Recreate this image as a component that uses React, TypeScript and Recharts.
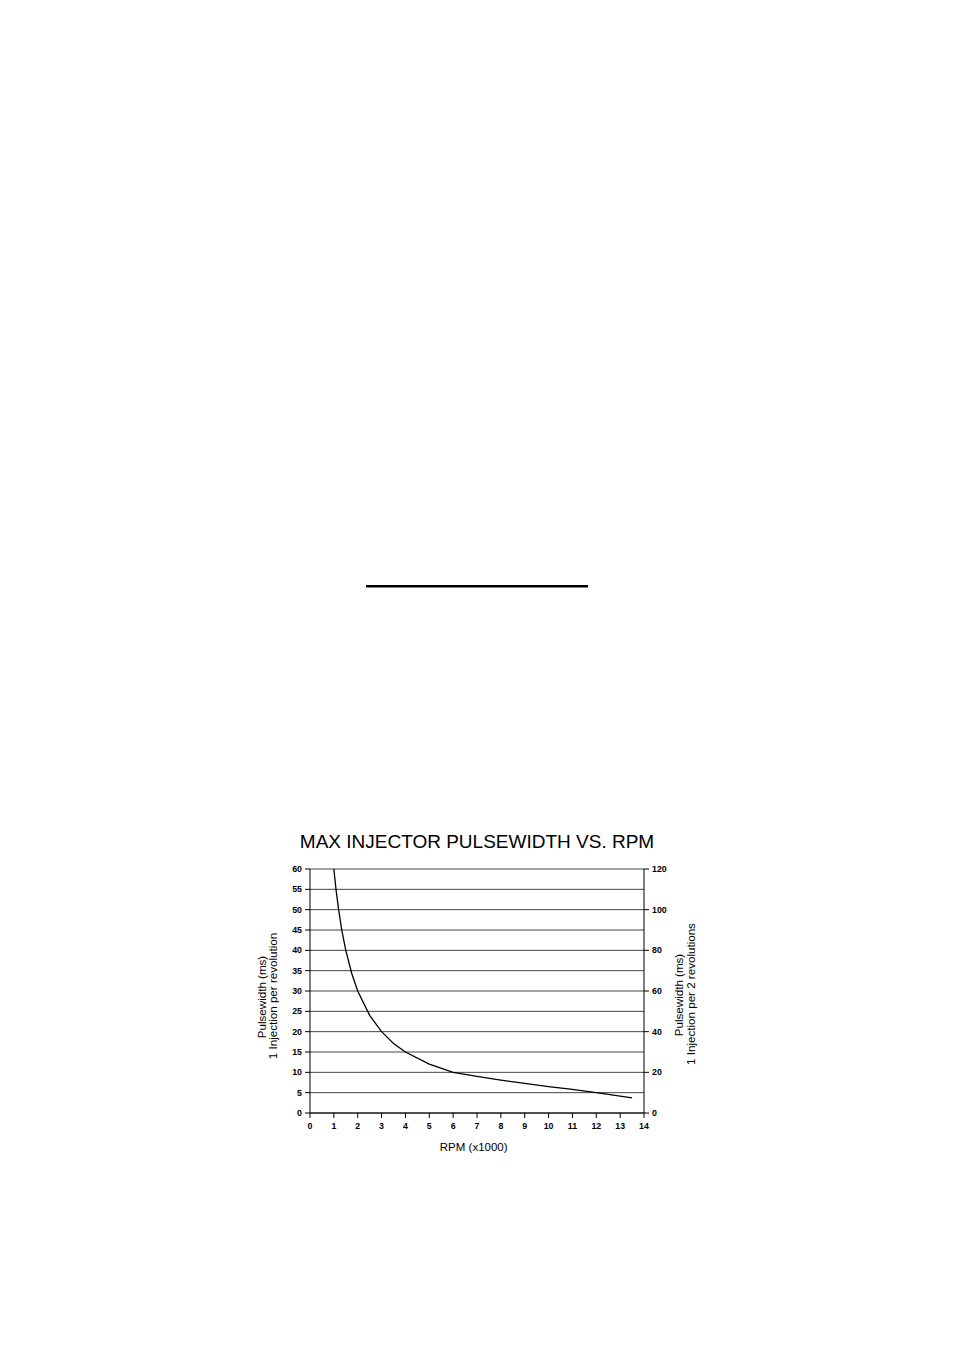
import { LineChart, Line, XAxis, YAxis, CartesianGrid } from 'recharts';

// RPM in thousands
const rpm = [1, 1.1, 1.2, 1.33, 1.5, 1.75, 2, 2.5, 3, 3.5, 4, 5, 6, 7, 8, 9, 10, 11, 12, 13.5];
// pulsewidth (ms), one injection per revolution
const pulse = [60, 54.5, 50, 45, 40, 34.3, 30, 24, 20, 17.1, 15, 12, 10, 9, 8.1, 7.3, 6.5, 5.8, 5, 3.7];

const xTicks = [0, 1, 2, 3, 4, 5, 6, 7, 8, 9, 10, 11, 12, 13, 14];
const leftTicks = [0, 5, 10, 15, 20, 25, 30, 35, 40, 45, 50, 55, 60];
const rightTicks = [0, 20, 40, 60, 80, 100, 120];

const data = rpm.map((r, i) => ({ rpm: r, pw: pulse[i] }));

const FONT = '"Liberation Sans", Arial, sans-serif';
const tick = { fontSize: 8.8, fill: '#000', fontFamily: FONT, fontWeight: 'bold' };

export default function App() {
  return (
    <div style={{ position: 'absolute', left: 0, top: 0, width: 954, height: 1350, background: '#fff' }}>
      <LineChart width={954} height={1350} data={data} margin={{ top: 869, right: 0, bottom: 207, left: 0 }}>
        <CartesianGrid yAxisId="left" vertical={false} stroke="#444" horizontalValues={leftTicks} />
        <XAxis
          dataKey="rpm"
          type="number"
          domain={[0, 14]}
          ticks={xTicks}
          interval={0}
          height={30}
          tick={tick}
          stroke="#000"
          tickSize={5}
          tickMargin={5}
        />
        <YAxis
          yAxisId="left"
          domain={[0, 60]}
          ticks={leftTicks}
          interval={0}
          width={310}
          tick={tick}
          stroke="#000"
          tickSize={5}
          tickMargin={3}
        />
        <YAxis
          yAxisId="right"
          orientation="right"
          type="number"
          domain={[0, 120]}
          ticks={rightTicks}
          interval={0}
          width={310}
          tick={tick}
          stroke="#000"
          tickSize={5}
          tickMargin={3}
        />
        {/* keeps the right axis bound to data so its ticks render */}
        <Line
          yAxisId="right"
          dataKey="pw"
          type="linear"
          stroke="transparent"
          dot={false}
          activeDot={false}
          legendType="none"
          isAnimationActive={false}
        />
        <Line
          yAxisId="left"
          dataKey="pw"
          type="linear"
          stroke="#000"
          strokeWidth={1.3}
          dot={false}
          isAnimationActive={false}
        />
      </LineChart>
      <svg width={954} height={1350} style={{ position: 'absolute', left: 0, top: 0, pointerEvents: 'none' }} fontFamily={FONT}>
        <line x1={366} y1={586.3} x2={588} y2={586.3} stroke="#000" strokeWidth={2.6} />
        <text x={477} y={848.3} textAnchor="middle" fontSize={19} fill="#000">
          MAX INJECTOR PULSEWIDTH VS. RPM
        </text>
        <text x={473.7} y={1151} textAnchor="middle" fontSize={11.5} fill="#000">
          RPM (x1000)
        </text>
        <g fontSize={11.6} fill="#000" textAnchor="middle">
          <text transform="translate(265.6,997) rotate(-90)">Pulsewidth (ms)</text>
          <text transform="translate(276.8,996) rotate(-90)">1 Injection per revolution</text>
          <text transform="translate(683.4,995) rotate(-90)">Pulsewidth (ms)</text>
          <text transform="translate(695,994) rotate(-90)">1 Injection per 2 revolutions</text>
        </g>
      </svg>
    </div>
  );
}
